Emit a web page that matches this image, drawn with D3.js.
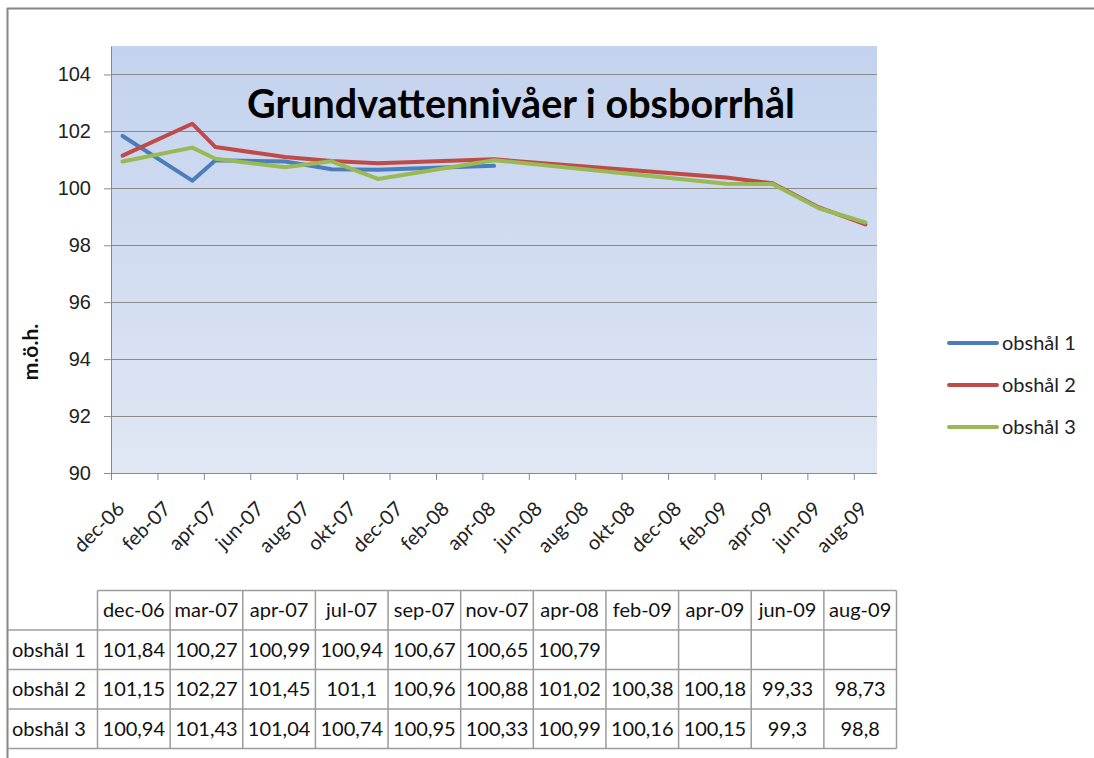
<!DOCTYPE html>
<html>
<head>
<meta charset="utf-8">
<script src="https://cdn.jsdelivr.net/npm/d3@7.9.0/dist/d3.min.js"></script>
<style>
body { margin: 0; background: #fff; }
svg { display: block; font-family: Lato, "Open Sans", sans-serif; }
</style>
</head>
<body>
<svg width="1094" height="758"></svg>
<script>
// measurement dates (Swedish month abbreviations) and the three wells
const dates = ["dec-06", "mar-07", "apr-07", "jul-07", "sep-07", "nov-07", "apr-08", "feb-09", "apr-09", "jun-09", "aug-09"];
const seriesNames = ["obshål 1", "obshål 2", "obshål 3"];
const obs1 = [101.84, 100.27, 100.99, 100.94, 100.67, 100.65, 100.79, null, null, null, null];
const obs2 = [101.15, 102.27, 101.45, 101.1, 100.96, 100.88, 101.02, 100.38, 100.18, 99.33, 98.73];
const obs3 = [100.94, 101.43, 101.04, 100.74, 100.95, 100.33, 100.99, 100.16, 100.15, 99.3, 98.8];
const yTicks = [90, 92, 94, 96, 98, 100, 102, 104];
const colors = ["#4a7ebb", "#be4b48", "#98b954"];
const title = "Grundvattennivåer i obsborrhål";
const yTitle = "m.ö.h.";

const monthNames = ["jan", "feb", "mar", "apr", "maj", "jun", "jul", "aug", "sep", "okt", "nov", "dec"];
const fmtMonth = d => monthNames[d.getUTCMonth()] + "-" + String(d.getUTCFullYear()).slice(2);
const allMonths = d3.utcMonth.range(new Date(Date.UTC(2006, 11, 1)), new Date(Date.UTC(2009, 8, 1))).map(fmtMonth);

const svg = d3.select("svg");
const plot = { left: 111, right: 877, top: 46, bottom: 473 };
const fs = 20;

const x = d3.scaleBand().domain(allMonths).range([plot.left, plot.right]).padding(0);
const y = d3.scaleLinear().domain([90, 105]).range([plot.bottom, plot.top]);

// outer frame (only top and left edges show)
svg.append("line").attr("x1", 7).attr("x2", 1094).attr("y1", 8.5).attr("y2", 8.5)
  .attr("stroke", "#868686").attr("stroke-width", 2);
svg.append("line").attr("x1", 7.5).attr("x2", 7.5).attr("y1", 8).attr("y2", 758)
  .attr("stroke", "#868686").attr("stroke-width", 2);

// plot background gradient
const grad = svg.append("defs").append("linearGradient").attr("id", "bg")
  .attr("x1", 0).attr("x2", 0).attr("y1", 0).attr("y2", 1);
grad.append("stop").attr("offset", "0%").attr("stop-color", "#c3d2ee");
grad.append("stop").attr("offset", "100%").attr("stop-color", "#e0e7f4");
svg.append("rect").attr("x", plot.left).attr("y", plot.top)
  .attr("width", plot.right - plot.left).attr("height", plot.bottom - plot.top)
  .attr("fill", "url(#bg)");

// gridlines
svg.append("g").selectAll("line").data(yTicks).join("line")
  .attr("x1", plot.left).attr("x2", plot.right)
  .attr("y1", d => Math.round(y(d)) + 0.5).attr("y2", d => Math.round(y(d)) + 0.5)
  .attr("stroke", "#8a8a8a").attr("stroke-width", 1);

// y axis
const yAxis = svg.append("g").attr("transform", `translate(${plot.left},0)`)
  .call(d3.axisLeft(y).tickValues(yTicks).tickSize(7).tickSizeOuter(0).tickPadding(13));
yAxis.select(".domain").attr("stroke", "#8a8a8a");
yAxis.selectAll(".tick line").attr("stroke", "#8a8a8a");
yAxis.selectAll("text").attr("font-size", fs).attr("fill", "#222").attr("font-family", null);

// x axis: ticks every second month at slot boundaries, labels at slot centers
const xTickMonths = allMonths.filter((m, i) => i % 2 === 0);
const xg = svg.append("g");
xg.append("line").attr("x1", plot.left).attr("x2", plot.right)
  .attr("y1", plot.bottom + 0.5).attr("y2", plot.bottom + 0.5).attr("stroke", "#8a8a8a");
xg.selectAll(".tk").data(xTickMonths).join("line").attr("class", "tk")
  .attr("x1", d => x(d) + 0.5).attr("x2", d => x(d) + 0.5)
  .attr("y1", plot.bottom).attr("y2", plot.bottom + 7).attr("stroke", "#8a8a8a");
xg.selectAll("text").data(xTickMonths).join("text")
  .attr("transform", d => `translate(${x(d) + x.bandwidth() / 2 + 3},${plot.bottom + 37}) rotate(-45)`)
  .attr("text-anchor", "end").attr("font-size", fs).attr("fill", "#222")
  .text(d => d);

// lines
const series = [obs1, obs2, obs3];
const line = d3.line()
  .defined(d => d.v != null)
  .x(d => x(d.m) + x.bandwidth() / 2)
  .y(d => y(d.v));
svg.append("g").selectAll("path").data(series).join("path")
  .attr("d", s => line(s.map((v, i) => ({ m: dates[i], v }))))
  .attr("fill", "none").attr("stroke", (s, i) => colors[i])
  .attr("stroke-width", 4).attr("stroke-linejoin", "round").attr("stroke-linecap", "round");

// title
const t = svg.append("text").attr("x", 247).attr("y", 118)
  .attr("font-size", 32).attr("font-weight", "bold").attr("fill", "#000").text(title);
const tl = t.node().getComputedTextLength();
t.attr("font-size", 32 * 548 / tl);

// y axis title
svg.append("text").attr("transform", "translate(38,352) rotate(-90)")
  .attr("text-anchor", "middle").attr("font-size", 21).attr("font-weight", "bold")
  .attr("fill", "#111").text(yTitle);

// legend
const lg = svg.append("g").selectAll("g").data(seriesNames).join("g")
  .attr("transform", (d, i) => `translate(949,${343 + i * 42})`);
lg.append("line").attr("x1", 0).attr("x2", 48).attr("stroke", (d, i) => colors[i])
  .attr("stroke-width", 4).attr("stroke-linecap", "round");
lg.append("text").attr("x", 53).attr("y", 7).attr("font-size", fs).attr("fill", "#222").text(d => d);

// data table
const fmtNum = v => v == null ? "" : String(v).replace(".", ",");
const tx = d3.scaleBand().domain(dates).range([97.5, 896.5]);
const ty = d3.scaleBand().domain(["head", ...seriesNames]).range([590.5, 748.5]);
const tb = svg.append("g");
const stroke = "#9c9c9c";
// horizontal rules
tb.append("line").attr("x1", tx.range()[0]).attr("x2", tx.range()[1])
  .attr("y1", ty("head")).attr("y2", ty("head")).attr("stroke", stroke).attr("stroke-width", 1.5);
tb.selectAll(".hr").data(seriesNames).join("line").attr("class", "hr")
  .attr("x1", 8).attr("x2", tx.range()[1])
  .attr("y1", d => ty(d)).attr("y2", d => ty(d)).attr("stroke", stroke).attr("stroke-width", 1.5);
tb.append("line").attr("x1", 8).attr("x2", tx.range()[1])
  .attr("y1", ty.range()[1]).attr("y2", ty.range()[1]).attr("stroke", stroke).attr("stroke-width", 1.5);
// vertical rules
tb.selectAll(".vr").data([...dates.map(d => tx(d)), tx.range()[1]]).join("line").attr("class", "vr")
  .attr("x1", d => d).attr("x2", d => d)
  .attr("y1", ty.range()[0]).attr("y2", ty.range()[1]).attr("stroke", stroke).attr("stroke-width", 1.5);
// header
tb.selectAll(".hd").data(dates).join("text").attr("class", "hd")
  .attr("x", d => tx(d) + tx.bandwidth() / 2).attr("y", ty("head") + ty.bandwidth() / 2 + 7)
  .attr("text-anchor", "middle").attr("font-size", fs).attr("fill", "#111").text(d => d);
// rows
seriesNames.forEach((name, si) => {
  tb.append("text").attr("x", 12).attr("y", ty(name) + ty.bandwidth() / 2 + 7)
    .attr("font-size", fs).attr("fill", "#111").text(name);
  tb.selectAll(".c" + si).data(series[si]).join("text").attr("class", "c" + si)
    .attr("x", (v, i) => tx(dates[i]) + tx.bandwidth() / 2).attr("y", ty(name) + ty.bandwidth() / 2 + 7)
    .attr("text-anchor", "middle").attr("font-size", fs).attr("fill", "#111").text(fmtNum);
});
</script>
</body>
</html>
